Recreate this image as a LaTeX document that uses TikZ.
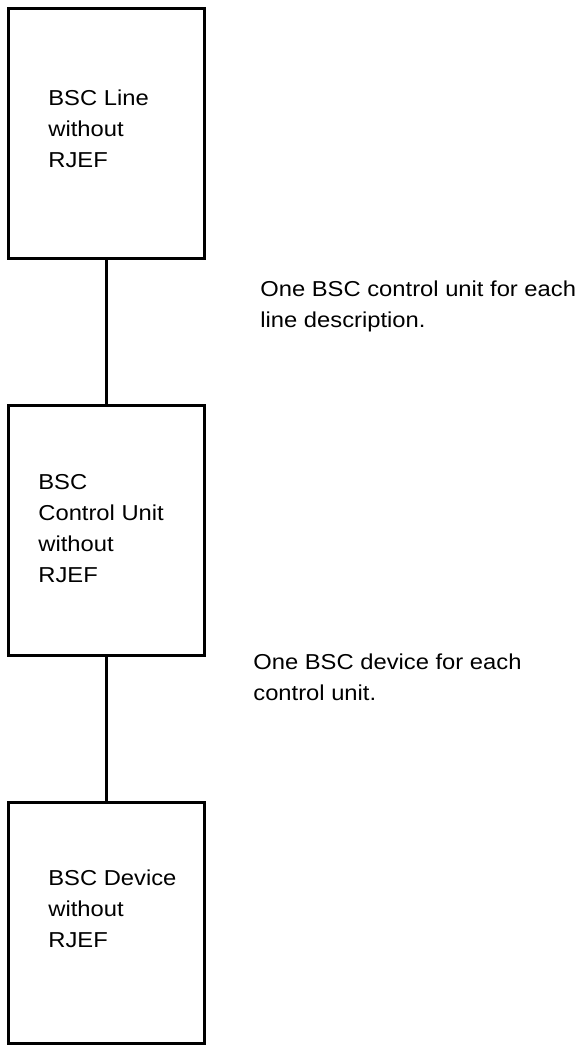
\documentclass[tikz,border=0pt]{standalone}
\usepackage{fontspec}
\setmainfont{Liberation Sans}[FakeStretch=1.1]
\usetikzlibrary{positioning}

\begin{document}
\begin{tikzpicture}[x=0.5pt, y=-0.5pt,
		box/.style={draw, line width=1.5pt, minimum width=98pt, inner sep=0pt},
		txt/.style={anchor=base west, align=left, inner sep=0pt,
			font=\fontsize{10.8}{15.5}\selectfont},
		link/.style={line width=1.5pt}]

		% page frame
		\useasboundingbox (0,0) rectangle (588,1046);

		% boxes
		\node[box, minimum height=125pt] (line) at (106,133) {};
		\node[box, minimum height=125pt] (cu) at (106,530) {};
		\node[box, minimum height=120.5pt] (dev) at (106,922.5) {};

		% box texts (placed at the baseline of the last line)
		\node[txt] (linetxt) at (48,167) {BSC Line\\without\\RJEF};
		\node[txt] (cutxt) at (38,582) {BSC\\Control Unit\\without\\RJEF};
		\node[txt] (devtxt) at (48,947) {BSC Device\\without\\RJEF};

		% connectors
		\draw[link] (line.south) -- (cu.north);
		\draw[link] (cu.south) -- (dev.north);

		% notes
		\node[txt] (note1) at (260,327) {One BSC control unit for each\\line description.};
		\node[txt] (note2) at (253,700) {One BSC device for each\\control unit.};

	\end{tikzpicture}
\end{document}
